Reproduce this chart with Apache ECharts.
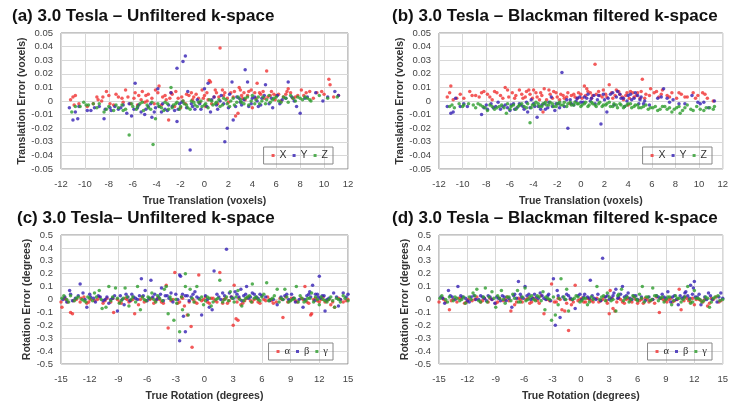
<!DOCTYPE html>
<html>
<head>
<meta charset="utf-8">
<script src="https://cdn.jsdelivr.net/npm/echarts@6/dist/echarts.min.js"></script>
<style>
  html, body { margin: 0; padding: 0; background: #fff; }
  #main { width: 731px; height: 407px; }
</style>
</head>
<body>
<div id="main"></div>
<script>
// titles of the four panels
var titles = [
    '(a) 3.0 Tesla \u2013 Unfiltered k-space',
    '(b) 3.0 Tesla \u2013 Blackman filtered k-space',
    '(c) 3.0 Tesla\u2013 Unfiltered k-space',
    '(d) 3.0 Tesla \u2013 Blackman filtered k-space'
];
var transNames = ['X', 'Y', 'Z'];
var rotNames = ['\u03b1', '\u03b2', '\u03b3'];

// (a) translation, unfiltered
var aX = [[-11.2,0.001],[-11.0,0.003],[-10.8,0.004],[-10.9,-0.003],[-10.5,-0.002],[-9.8,-0.004],[-9.3,-0.002],[-8.9,0.001],[-8.5,0.003],[-8.2,0.007],[-8.0,0.004],[-7.6,-0.003],[-7.2,0.003],[-6.9,0.002],[-6.6,0.008],[-6.2,-0.002],[-5.9,0.002],[-5.5,0.004],[-5.2,0.007],[-5.0,-0.001],[-4.7,0.005],[-4.4,0.002],[-4.1,0.008],[-3.8,0.011],[-3.5,0.003],[-3.2,0.001],[-3.0,-0.014],[-2.8,0.006],[-2.5,-0.004],[-2.2,0.002],[-1.9,0.003],[-1.6,-0.002],[-1.3,0.004],[-1.0,0.001],[-0.7,0.005],[-0.4,-0.001],[-0.1,0.002],[0.2,0.006],[0.4,0.015],[0.5,0.014],[0.8,0.003],[1.1,-0.002],[1.3,0.039],[1.6,0.004],[1.9,0.002],[2.2,0.006],[2.6,-0.011],[2.8,-0.009],[2.9,0.010],[3.1,0.004],[3.4,0.001],[3.7,0.007],[4.0,-0.005],[4.4,0.013],[4.7,0.005],[5.0,0.002],[5.2,0.022],[5.5,0.004],[5.9,0.001],[6.2,0.005],[6.6,0.003],[6.9,0.007],[7.0,0.009],[7.4,0.002],[7.8,0.004],[8.1,0.008],[8.5,0.006],[9.4,0.006],[9.8,0.007],[10.4,0.016],[10.5,0.012],[11.2,0.004],[-0.2,0.008],[0.1,-0.004],[1.0,0.006],[2.4,0.003],[3.0,0.008],[-4.8,0.000],[-2.0,-0.005],[4.2,0.006],[5.8,0.005],[3.3,0.006],[-3.6,-0.003],[-5.6,-0.003],[-6.8,-0.001],[-7.9,-0.002],[0.6,-0.002],[1.5,0.008],[4.9,0.007],[6.4,0.000],[-1.1,0.006],[-2.7,0.005],
    [-9.0,0.003],[-8.6,0.000],[-7.4,0.005],[-6.4,0.003],[-5.8,0.006],[-5.3,0.001],[-4.9,0.004],[-4.2,-0.002],[-3.9,0.006],[-3.3,0.004],[-2.9,0.002],[-2.4,0.007],[-1.8,0.000],[-1.5,0.005],[-0.9,0.003],[-0.5,0.002],[0.0,0.004],[0.3,0.001],[0.9,0.008],[1.2,0.003],[1.7,0.006],[2.0,-0.001],[2.5,0.007],[3.2,0.002],[3.6,0.004],[3.9,0.008],[4.3,0.002],[4.6,0.006],[5.3,0.003],[5.6,0.007],[6.0,0.004],[6.8,0.005],[7.2,0.006],[7.6,0.003],[8.3,0.004],[8.8,0.007],[9.1,0.002],[10.0,0.005],[10.8,0.003]];
var aY = [[-11.3,-0.005],[-11.0,-0.014],[-10.8,-0.008],[-10.6,-0.013],[-10.5,-0.004],[-9.8,-0.007],[-9.5,-0.007],[-8.4,-0.013],[-8.3,-0.006],[-7.9,-0.005],[-7.5,-0.004],[-7.2,-0.006],[-6.8,-0.003],[-6.5,-0.009],[-6.1,-0.011],[-5.8,0.013],[-5.6,-0.005],[-5.3,-0.008],[-5.0,-0.010],[-4.7,-0.004],[-4.4,-0.012],[-4.1,-0.005],[-3.9,0.009],[-3.6,-0.008],[-3.3,-0.006],[-3.0,-0.003],[-2.8,0.006],[-2.5,-0.007],[-2.3,0.024],[-2.3,-0.015],[-2.1,-0.002],[-1.8,0.029],[-1.6,0.033],[-1.4,0.007],[-1.2,-0.036],[-1.0,-0.004],[-0.6,0.001],[-0.3,-0.006],[0.0,0.009],[0.3,0.013],[0.5,-0.008],[0.8,0.003],[1.1,-0.006],[1.4,0.004],[1.7,-0.030],[1.9,-0.020],[2.1,0.005],[2.3,0.014],[2.4,-0.014],[2.6,-0.004],[2.9,0.002],[3.1,-0.003],[3.4,0.023],[3.6,0.014],[3.9,-0.002],[4.2,0.003],[4.5,-0.004],[4.8,0.002],[5.1,0.012],[5.4,-0.002],[5.7,-0.005],[6.1,0.004],[6.5,0.001],[7.0,0.014],[7.3,0.003],[7.7,-0.004],[8.0,-0.009],[8.4,0.002],[9.3,0.006],[9.9,0.000],[10.3,0.003],[10.9,0.007],[11.2,0.004],
    [-9.2,-0.005],[-8.8,-0.004],[-7.8,-0.007],[-7.0,-0.005],[-6.3,-0.002],[-5.9,-0.006],[-5.5,-0.003],[-4.9,-0.006],[-4.5,-0.002],[-4.2,-0.008],[-3.8,-0.004],[-3.5,-0.002],[-3.1,-0.007],[-2.7,-0.004],[-2.2,-0.006],[-1.9,-0.001],[-1.5,-0.005],[-1.1,-0.002],[-0.8,-0.006],[-0.4,-0.002],[0.2,-0.004],[0.6,0.001],[1.0,-0.003],[1.3,0.000],[1.6,-0.002],[2.0,-0.005],[2.7,0.003],[3.0,-0.001],[3.3,0.001],[3.7,-0.004],[4.0,0.002],[4.4,0.000],[4.7,-0.003],[5.0,0.004],[5.6,0.002],[6.3,-0.002],[6.8,0.002],[7.5,0.000],[8.6,0.003]];
var aZ = [[-11.1,-0.008],[-10.8,-0.004],[-10.4,-0.004],[-10.1,-0.001],[-9.7,-0.003],[-9.3,-0.002],[-8.8,-0.002],[-8.4,-0.008],[-8.0,-0.004],[-7.6,-0.007],[-7.2,-0.005],[-6.9,-0.003],[-6.6,-0.006],[-6.3,-0.025],[-6.0,-0.004],[-5.7,-0.006],[-5.4,-0.002],[-5.1,-0.007],[-4.8,-0.003],[-4.5,-0.006],[-4.3,-0.032],[-4.1,-0.013],[-3.9,-0.002],[-3.6,-0.005],[-3.3,-0.001],[-3.0,-0.006],[-2.8,0.010],[-2.6,-0.003],[-2.3,-0.001],[-2.0,-0.004],[-1.7,-0.002],[-1.4,-0.005],[-1.1,0.000],[-0.8,-0.003],[-0.5,-0.001],[-0.2,-0.004],[0.1,-0.002],[0.4,0.001],[0.7,-0.003],[1.0,-0.001],[1.3,-0.004],[1.6,0.002],[1.9,-0.002],[2.2,0.000],[2.5,-0.003],[2.8,0.003],[3.1,-0.001],[3.4,0.002],[3.7,-0.003],[4.0,0.004],[4.3,0.001],[4.6,-0.002],[4.9,0.003],[5.2,0.001],[5.5,-0.001],[5.8,0.002],[6.2,0.000],[6.6,0.003],[7.0,-0.001],[7.4,0.002],[7.8,0.003],[8.2,0.001],[8.6,0.002],[8.9,0.000],[9.6,0.004],[10.3,0.002],[11.1,0.003],
    [-9.9,-0.003],[-9.0,-0.005],[-8.2,-0.006],[-7.4,-0.003],[-6.8,-0.007],[-6.1,-0.002],[-5.6,-0.004],[-5.2,-0.001],[-4.7,-0.005],[-4.4,-0.001],[-3.8,-0.004],[-3.4,-0.007],[-3.1,-0.002],[-2.7,-0.005],[-2.4,-0.002],[-2.1,-0.006],[-1.8,0.000],[-1.5,-0.003],[-1.2,-0.006],[-0.9,-0.001],[-0.6,-0.004],[-0.3,0.000],[0.0,-0.003],[0.3,-0.005],[0.6,0.000],[0.9,-0.002],[1.2,0.001],[1.5,-0.003],[1.8,0.001],[2.1,-0.004],[2.4,0.002],[2.7,-0.001],[3.0,0.001],[3.3,-0.002],[3.6,0.003],[3.9,0.000],[4.2,-0.002],[4.5,0.003],[4.8,0.000],[5.1,-0.002],[5.4,0.004],[5.7,0.001],[6.0,0.003],[6.4,-0.001],[6.8,0.002],[7.2,0.004],[7.6,0.000],[8.0,0.002],[8.4,0.003],[8.8,0.001]];

// (b) translation, Blackman filtered
var bX = [[-11.3,0.003],[-11.1,0.006],[-11.0,0.011],[-10.8,0.001],[-10.5,0.002],[-9.9,0.002],[-9.4,0.007],[-8.9,0.004],[-8.6,0.003],[-8.2,0.007],[-7.9,0.005],[-7.5,0.001],[-7.1,0.006],[-6.8,0.004],[-6.4,0.010],[-6.1,0.003],[-5.8,0.006],[-5.5,0.004],[-5.2,0.008],[-4.9,0.002],[-4.6,0.007],[-4.3,0.005],[-4.0,0.008],[-3.7,0.003],[-3.4,0.006],[-3.1,0.009],[-2.9,0.001],[-2.6,0.005],[-2.3,0.007],[-2.0,0.003],[-1.7,0.005],[-1.4,0.002],[-1.1,0.006],[-0.8,0.004],[-0.5,0.003],[-0.2,0.006],[0.1,0.002],[0.3,0.011],[0.5,0.009],[0.8,0.006],[1.0,0.004],[1.2,0.027],[1.5,0.007],[1.8,0.003],[2.1,0.005],[2.4,0.012],[2.7,0.002],[3.0,0.008],[3.3,0.005],[3.6,0.001],[3.9,0.006],[4.2,0.007],[4.5,0.003],[4.8,0.006],[5.0,0.002],[5.2,0.016],[5.5,0.005],[5.9,0.009],[6.2,0.006],[6.6,0.003],[6.9,0.008],[7.3,0.004],[7.7,0.006],[8.1,0.002],[8.5,0.005],[9.0,0.003],[9.5,0.006],[9.9,0.004],[10.3,0.006],[10.7,0.002],[11.2,0.000],[-3.2,-0.008],[-0.9,-0.002],[4.0,-0.003],
    [-10.2,0.005],[-9.2,0.004],[-8.4,0.006],[-7.7,0.003],[-7.3,0.007],[-6.6,0.002],[-6.2,0.008],[-5.6,0.002],[-5.0,0.005],[-4.7,0.003],[-4.4,0.008],[-4.1,0.002],[-3.8,0.006],[-3.5,0.001],[-3.3,0.004],[-2.7,0.008],[-2.4,0.002],[-2.1,0.006],[-1.8,0.001],[-1.5,0.004],[-1.2,0.003],[-0.6,0.005],[-0.3,0.002],[0.0,0.005],[0.4,0.004],[0.6,0.007],[0.9,0.002],[1.3,0.005],[1.6,0.004],[1.9,0.008],[2.2,0.003],[2.6,0.006],[2.9,0.004],[3.2,0.007],[3.5,0.003],[3.8,0.004],[4.1,0.002],[4.4,0.006],[4.7,0.004],[5.1,0.007],[5.4,0.002],[5.8,0.004],[6.4,0.007],[6.8,0.005],[7.5,0.003],[8.3,0.006],[8.8,0.003],[9.7,0.002],[10.5,0.005]];
var bY = [[-11.3,-0.004],[-11.0,-0.009],[-10.8,-0.008],[-10.6,0.002],[-10.2,-0.004],[-9.6,-0.004],[-8.4,-0.010],[-8.2,-0.005],[-7.9,-0.006],[-7.6,-0.002],[-7.2,-0.004],[-6.8,-0.006],[-6.4,-0.003],[-6.0,-0.007],[-5.7,-0.002],[-5.4,-0.005],[-5.1,-0.003],[-4.8,-0.006],[-4.5,-0.008],[-4.2,0.001],[-3.9,-0.004],[-3.7,-0.012],[-3.4,-0.006],[-3.1,-0.002],[-2.8,-0.005],[-2.5,0.003],[-2.2,-0.007],[-1.9,-0.002],[-1.6,0.021],[-1.4,-0.004],[-1.1,-0.020],[-0.9,0.001],[-0.6,-0.003],[-0.3,0.002],[0.0,-0.001],[0.3,0.003],[0.6,0.005],[0.9,0.002],[1.2,-0.002],[1.5,0.004],[1.7,-0.017],[2.0,0.001],[2.2,-0.008],[2.5,0.005],[2.8,-0.003],[3.1,0.007],[3.4,0.002],[3.7,-0.004],[4.0,0.004],[4.3,0.001],[4.6,0.006],[4.9,-0.002],[5.1,0.003],[5.4,0.000],[5.8,-0.003],[6.5,0.002],[7.0,0.009],[7.3,0.002],[7.8,0.001],[8.3,-0.002],[8.8,-0.002],[9.4,0.004],[10.1,-0.002],[10.4,-0.001],[10.8,-0.005],[11.3,0.000],
    [-9.9,-0.002],[-8.0,-0.003],[-7.4,-0.005],[-7.0,-0.001],[-6.6,-0.004],[-6.2,-0.005],[-5.9,-0.003],[-5.6,-0.006],[-5.2,-0.002],[-4.9,-0.004],[-4.6,-0.001],[-4.3,-0.005],[-4.0,-0.002],[-3.6,-0.004],[-3.3,-0.003],[-3.0,-0.006],[-2.7,-0.001],[-2.4,-0.004],[-2.1,-0.002],[-1.8,-0.005],[-1.2,0.001],[-0.8,-0.002],[-0.4,0.000],[-0.1,0.003],[0.2,-0.001],[0.5,0.002],[0.8,0.000],[1.1,0.004],[1.4,0.001],[1.9,0.005],[2.3,0.002],[2.7,0.006],[3.0,0.003],[3.3,0.005],[3.6,0.002],[3.9,0.000],[4.2,0.005],[4.5,0.002],[4.8,0.004],[5.0,0.001],[5.3,-0.002],[6.8,0.003],[7.5,-0.001],[9.9,-0.001]];
var bZ = [[-11.1,-0.004],[-10.7,-0.005],[-10.3,-0.002],[-9.9,-0.003],[-9.5,-0.002],[-9.1,-0.003],[-8.7,-0.002],[-8.3,-0.004],[-7.9,-0.007],[-7.5,-0.004],[-7.1,-0.005],[-6.7,-0.003],[-6.3,-0.009],[-6.0,-0.006],[-5.7,-0.003],[-5.3,-0.004],[-5.0,-0.002],[-4.6,-0.005],[-4.3,-0.016],[-4.1,-0.003],[-3.8,-0.001],[-3.5,-0.004],[-3.2,-0.002],[-2.9,-0.003],[-2.6,-0.001],[-2.3,-0.004],[-2.0,-0.002],[-1.7,-0.003],[-1.4,-0.001],[-1.1,-0.002],[-0.8,-0.003],[-0.5,-0.001],[-0.2,-0.002],[0.1,-0.003],[0.4,-0.001],[0.7,-0.003],[1.0,-0.002],[1.3,-0.004],[1.6,-0.001],[1.9,-0.003],[2.2,-0.002],[2.5,-0.004],[2.8,-0.002],[3.1,-0.005],[3.4,-0.003],[3.7,-0.004],[4.0,-0.002],[4.3,-0.005],[4.6,-0.003],[4.9,-0.005],[5.3,-0.004],[5.7,-0.006],[6.1,-0.005],[6.5,-0.007],[6.9,-0.004],[7.3,-0.006],[7.7,-0.008],[8.1,-0.005],[8.4,-0.009],[8.6,-0.007],[9.0,-0.003],[9.5,-0.007],[10.1,-0.006],[10.6,-0.005],[11.2,-0.006],[11.3,-0.004],
    [-10.9,-0.003],[-10.0,-0.004],[-8.9,-0.005],[-8.5,-0.003],[-8.1,-0.005],[-7.7,-0.003],[-7.3,-0.006],[-6.9,-0.004],[-6.5,-0.005],[-6.2,-0.002],[-5.9,-0.004],[-5.5,-0.006],[-5.2,-0.003],[-4.8,-0.004],[-4.5,-0.002],[-4.2,-0.005],[-3.9,-0.003],[-3.6,-0.002],[-3.3,-0.004],[-3.0,-0.001],[-2.7,-0.003],[-2.4,-0.002],[-2.1,-0.004],[-1.8,-0.001],[-1.5,-0.003],[-1.2,-0.004],[-0.9,-0.001],[-0.6,-0.003],[-0.3,-0.002],[0.0,-0.004],[0.3,-0.002],[0.6,-0.004],[0.9,-0.001],[1.2,-0.003],[1.5,-0.002],[1.8,-0.004],[2.1,-0.003],[2.4,-0.001],[2.7,-0.004],[3.0,-0.003],[3.3,-0.002],[3.6,-0.005],[3.9,-0.003],[4.2,-0.002],[4.5,-0.004],[4.8,-0.003],[5.1,-0.005],[5.5,-0.003],[5.9,-0.005],[6.3,-0.004],[6.7,-0.006],[7.1,-0.004],[7.5,-0.005],[7.9,-0.006],[8.3,-0.004],[8.8,-0.005],[9.3,-0.006],[9.8,-0.004],[10.4,-0.007],[10.9,-0.005]];

// (c) rotation, unfiltered
var cA = [[-15,-0.02],[-14.9,-0.06],[-14.6,0.01],[-14.3,-0.02],[-14.0,-0.10],[-13.8,-0.11],[-13.4,0.00],[-13.0,-0.02],[-12.6,0.02],[-12.3,-0.03],[-11.9,0.00],[-11.5,-0.01],[-11.0,0.02],[-10.6,-0.03],[-10.2,0.01],[-9.8,-0.02],[-9.5,-0.10],[-9.1,0.00],[-8.7,-0.03],[-8.3,0.01],[-7.9,-0.02],[-7.5,0.00],[-7.3,-0.11],[-6.9,-0.04],[-6.5,0.02],[-6.1,-0.01],[-5.7,0.00],[-5.3,-0.03],[-4.9,0.01],[-4.5,-0.02],[-4.0,0.11],[-3.8,-0.22],[-3.5,-0.01],[-3.1,0.21],[-2.8,-0.03],[-2.4,0.02],[-2.1,-0.05],[-1.8,-0.12],[-1.4,-0.21],[-1.3,-0.37],[-1.0,-0.02],[-0.6,0.19],[-0.3,-0.01],[0.1,0.02],[0.5,-0.03],[0.9,0.01],[1.3,-0.02],[1.6,0.21],[2.0,0.00],[2.4,-0.03],[2.8,0.02],[3.0,-0.20],[3.1,0.11],[3.3,-0.15],[3.5,-0.16],[3.8,-0.04],[4.2,-0.01],[4.6,0.02],[5.0,-0.02],[5.4,0.01],[5.8,-0.03],[6.2,0.00],[6.6,0.02],[7.0,-0.01],[7.5,-0.02],[7.9,0.01],[8.2,-0.14],[8.5,0.02],[8.9,-0.01],[9.3,0.01],[9.7,-0.02],[10.1,0.01],[10.5,0.10],[10.9,-0.03],[11.1,-0.12],[11.2,-0.11],[11.6,0.01],[12.0,-0.02],[12.4,0.02],[12.8,-0.01],[13.2,-0.04],[13.6,-0.06],[14.0,0.01],[14.5,-0.02],[15,0.00],
    [-14.5,0.00],[-13.7,-0.01],[-12.9,0.01],[-12.1,-0.02],[-11.2,0.00],[-10.4,-0.01],[-9.6,0.01],[-8.9,-0.02],[-8.1,0.00],[-7.7,-0.01],[-6.7,0.00],[-6.3,-0.02],[-5.5,0.01],[-5.1,-0.01],[-4.7,0.00],[-4.3,-0.03],[-3.3,0.00],[-2.6,-0.02],[-2.3,0.01],[-1.6,-0.02],[-1.2,0.00],[-0.8,-0.03],[-0.1,0.00],[0.3,-0.02],[0.7,0.01],[1.1,-0.01],[1.9,-0.03],[2.2,0.01],[2.6,-0.01],[3.4,-0.02],[3.6,0.01],[4.0,-0.03],[4.4,0.01],[4.8,-0.01],[5.2,0.00],[5.6,-0.02],[6.4,-0.01],[6.8,0.00],[7.2,-0.03],[8.1,0.00],[8.7,-0.02],[9.1,0.01],[9.5,-0.01],[10.3,0.00],[10.7,-0.02],[11.4,0.00],[11.8,-0.01],[12.2,0.00],[12.6,-0.02],[13.0,0.00],[13.4,-0.02],[14.2,0.00],[14.8,-0.01]];
var cB = [[-14.8,0.00],[-14.4,-0.02],[-14.1,0.07],[-14.0,0.04],[-13.5,0.01],[-13.0,0.12],[-12.7,0.05],[-12.3,-0.06],[-11.9,0.02],[-11.4,-0.02],[-10.9,0.02],[-10.4,0.00],[-10.0,-0.03],[-9.6,0.01],[-9.1,-0.09],[-8.8,0.03],[-8.4,-0.04],[-8.0,0.02],[-7.6,0.04],[-7.2,0.01],[-6.8,0.03],[-6.6,0.16],[-6.2,0.07],[-5.8,0.01],[-5.6,0.15],[-5.2,0.04],[-4.8,0.02],[-4.5,0.09],[-4.1,0.03],[-3.7,0.01],[-3.3,-0.02],[-3.0,0.04],[-2.6,0.19],[-2.5,0.18],[-2.6,-0.32],[-2.3,0.04],[-2.0,-0.25],[-2.2,-0.13],[-1.8,0.03],[-1.4,0.02],[-1.0,0.06],[-0.6,0.01],[-0.3,-0.12],[0.1,0.03],[0.5,-0.06],[0.8,-0.08],[1.0,0.22],[1.3,0.04],[1.7,0.00],[2.1,0.03],[2.3,0.39],[2.6,0.05],[3.0,0.01],[3.4,0.04],[3.8,0.08],[4.1,0.03],[4.4,0.10],[4.8,0.02],[5.2,0.04],[5.6,0.01],[6.0,0.03],[6.4,0.02],[6.8,-0.01],[7.2,0.00],[7.6,-0.04],[8.0,0.02],[8.4,0.03],[8.8,0.00],[9.1,0.04],[9.5,-0.02],[9.9,0.00],[10.3,-0.06],[10.7,0.03],[11.0,0.06],[11.3,0.11],[11.6,0.04],[11.9,0.02],[12.0,0.18],[12.3,0.03],[12.6,-0.09],[13.0,0.01],[13.5,0.05],[14.0,-0.05],[14.5,0.05],[14.8,0.02],[15,0.04],
    [-14.6,0.02],[-13.8,-0.01],[-13.2,0.03],[-12.5,0.00],[-12.0,0.04],[-11.6,0.01],[-11.1,0.03],[-10.6,-0.01],[-10.2,0.02],[-9.8,0.00],[-9.4,0.03],[-8.6,0.00],[-8.2,0.04],[-7.8,-0.01],[-7.4,0.02],[-7.0,0.00],[-6.4,0.03],[-6.0,-0.01],[-5.4,0.02],[-5.0,0.00],[-4.6,0.04],[-4.3,-0.01],[-3.9,0.03],[-3.5,0.05],[-2.8,0.00],[-2.0,0.03],[-1.6,-0.01],[-1.2,0.04],[-0.8,0.02],[0.3,0.00],[1.5,0.02],[1.9,0.05],[2.8,0.02],[3.2,0.06],[3.6,0.02],[3.9,-0.01],[4.3,0.04],[4.6,0.01],[5.0,0.05],[5.4,0.02],[5.8,0.04],[8.2,0.00],[8.6,0.04],[9.3,0.01],[10.5,0.00],[10.9,0.04],[11.1,0.02],[11.5,-0.01],[11.8,0.04],[12.1,0.01],[12.5,0.03],[12.8,0.00],[13.8,0.02],[14.2,0.00]];
var cG = [[-14.7,0.03],[-14.4,0.00],[-14.0,0.03],[-13.6,-0.01],[-13.2,0.02],[-12.8,0.00],[-12.4,-0.02],[-12.0,0.01],[-11.5,0.05],[-11.0,0.07],[-10.7,-0.07],[-10.3,-0.06],[-10.0,0.10],[-9.6,0.02],[-9.3,0.09],[-8.9,-0.03],[-8.5,0.01],[-8.3,0.09],[-7.9,-0.05],[-7.5,0.02],[-7.0,0.10],[-6.7,-0.08],[-6.3,0.00],[-5.9,0.02],[-5.5,0.05],[-5.1,-0.02],[-4.7,0.01],[-4.2,0.08],[-4.0,0.10],[-3.8,-0.11],[-3.5,0.00],[-3.2,-0.16],[-2.9,-0.03],[-2.6,-0.25],[-2.3,-0.08],[-2.0,0.20],[-2.0,0.10],[-1.7,-0.12],[-1.5,0.08],[-1.1,-0.02],[-0.8,0.10],[-0.5,0.00],[-0.1,-0.04],[0.3,0.02],[0.7,-0.05],[1.2,0.00],[1.6,0.15],[1.9,-0.02],[2.3,0.02],[2.7,0.06],[3.1,-0.02],[3.5,0.07],[3.9,-0.05],[4.3,0.01],[4.7,0.03],[5.0,0.12],[5.4,0.02],[5.8,-0.01],[6.2,0.04],[6.5,0.13],[6.9,0.00],[7.3,0.03],[7.6,0.08],[8.0,0.01],[8.4,0.08],[8.8,-0.02],[9.2,0.00],[9.6,0.10],[10.0,0.03],[10.4,-0.02],[10.8,0.01],[11.2,0.05],[11.6,0.02],[12.0,-0.04],[12.4,0.00],[12.8,-0.02],[13.2,0.02],[13.6,-0.06],[14.0,0.00],[14.5,0.03],[15,-0.01],
    [-14.9,0.01],[-14.2,-0.02],[-13.4,0.01],[-12.6,-0.01],[-12.2,0.02],[-11.7,-0.01],[-11.3,0.02],[-10.8,0.00],[-9.8,-0.01],[-9.1,0.01],[-8.7,-0.01],[-8.1,0.02],[-7.7,0.00],[-7.2,-0.02],[-6.5,0.02],[-6.1,-0.01],[-5.7,0.01],[-5.3,0.00],[-4.9,0.03],[-4.4,-0.01],[-3.6,0.02],[-3.0,0.00],[-2.4,0.02],[-1.3,0.01],[-0.3,0.02],[0.1,-0.01],[0.5,0.01],[0.9,-0.02],[1.4,0.01],[2.1,0.00],[2.5,-0.01],[2.9,0.01],[3.3,0.02],[3.7,0.00],[4.1,-0.01],[4.5,0.02],[4.9,-0.02],[5.2,0.01],[5.6,0.00],[6.0,0.02],[6.7,-0.01],[7.1,0.01],[7.8,-0.02],[8.2,0.00],[8.6,0.02],[9.0,-0.01],[9.4,0.01],[9.8,-0.02],[10.2,0.01],[10.6,-0.01],[11.0,0.01],[11.4,-0.02],[11.8,0.00],[12.2,0.02],[12.6,-0.01],[13.0,0.00],[13.4,-0.01],[13.8,0.01],[14.2,-0.02],[14.7,0.01]];

// (d) rotation, Blackman filtered
var dA = [[-15,-0.02],[-14.6,0.01],[-14.3,-0.02],[-13.9,-0.08],[-13.5,0.00],[-13.1,-0.02],[-12.7,0.01],[-12.3,-0.03],[-11.9,0.00],[-11.5,-0.01],[-11.0,0.02],[-10.6,-0.02],[-10.2,0.01],[-9.8,-0.02],[-9.4,0.00],[-9.0,-0.03],[-8.6,0.01],[-8.2,-0.01],[-7.8,0.02],[-7.4,-0.09],[-7.0,-0.04],[-6.6,0.01],[-6.2,-0.02],[-5.8,0.00],[-5.4,-0.03],[-5.0,0.01],[-4.6,-0.01],[-4.2,0.03],[-3.9,-0.11],[-3.6,0.00],[-3.1,0.12],[-2.8,-0.02],[-2.4,0.01],[-2.0,-0.08],[-1.7,-0.09],[-1.3,-0.24],[-1.0,-0.04],[-0.6,0.11],[-0.3,-0.01],[0.1,0.01],[0.5,-0.02],[0.9,0.00],[1.3,-0.02],[1.7,0.01],[2.1,-0.01],[2.5,0.02],[2.8,-0.03],[3.0,-0.11],[3.1,0.07],[3.4,-0.07],[3.6,-0.09],[4.0,0.01],[4.4,-0.02],[4.8,0.00],[5.2,-0.01],[5.6,0.02],[6.0,-0.03],[6.4,0.00],[6.8,0.01],[7.2,-0.02],[7.6,0.00],[8.0,0.02],[8.3,-0.10],[8.7,0.00],[9.1,-0.02],[9.5,0.01],[9.9,-0.01],[10.4,0.08],[10.6,-0.08],[11.0,0.02],[11.4,-0.01],[11.8,0.01],[12.0,-0.04],[12.5,0.00],[12.9,-0.02],[13.4,-0.05],[13.8,0.01],[14.3,0.02],[14.8,-0.01],
    [-14.5,0.00],[-13.7,-0.01],[-12.9,0.01],[-12.1,-0.02],[-11.2,0.00],[-10.4,-0.01],[-9.6,0.01],[-8.8,-0.02],[-8.0,0.00],[-7.6,-0.01],[-6.8,-0.02],[-6.4,0.00],[-5.6,0.01],[-5.2,-0.02],[-4.8,0.00],[-4.4,-0.03],[-3.3,-0.01],[-2.6,-0.02],[-2.2,0.00],[-1.5,-0.03],[-1.1,0.00],[-0.8,-0.02],[-0.1,0.00],[0.3,-0.02],[0.7,0.01],[1.1,-0.01],[1.9,-0.02],[2.3,0.00],[2.7,-0.01],[3.3,0.01],[3.8,-0.02],[4.2,0.00],[4.6,-0.03],[5.0,0.01],[5.4,-0.02],[5.8,0.00],[6.2,-0.01],[6.6,-0.03],[7.0,0.00],[7.4,-0.01],[7.8,-0.03],[8.5,0.01],[8.9,-0.01],[9.3,0.00],[9.7,-0.02],[10.2,0.00],[10.9,-0.01],[11.2,0.01],[11.6,-0.02],[12.2,0.00],[12.7,-0.01],[13.1,0.00],[13.6,-0.03],[14.0,0.00],[14.6,-0.02]];
var dB = [[-14.8,0.02],[-14.4,-0.03],[-14.0,0.07],[-13.6,0.02],[-13.0,0.10],[-12.7,0.03],[-12.2,0.01],[-11.8,-0.02],[-11.3,0.03],[-10.8,0.00],[-10.4,0.02],[-10.0,-0.01],[-9.6,0.02],[-9.1,-0.03],[-8.7,0.01],[-8.3,0.03],[-7.9,-0.01],[-7.3,-0.06],[-7.0,0.04],[-6.6,0.14],[-6.3,0.02],[-5.9,0.10],[-5.5,0.04],[-5.1,0.01],[-4.7,0.02],[-4.3,0.05],[-3.9,0.01],[-3.5,0.03],[-3.2,-0.01],[-2.9,0.16],[-2.7,-0.20],[-2.5,0.07],[-2.2,-0.14],[-1.9,0.02],[-1.5,0.04],[-1.1,0.01],[-0.6,-0.07],[-0.3,0.03],[0.1,0.00],[0.4,0.04],[0.7,0.02],[1.0,0.15],[1.4,0.01],[1.8,0.04],[2.1,-0.01],[2.3,0.32],[2.6,0.02],[3.0,0.00],[3.4,0.03],[3.7,0.08],[4.0,0.02],[4.4,0.10],[4.8,0.03],[5.2,0.01],[5.6,0.03],[6.0,0.00],[6.4,0.02],[6.8,-0.01],[7.2,0.02],[7.6,0.00],[8.0,0.03],[8.4,0.01],[8.8,0.02],[9.2,0.06],[9.5,-0.02],[9.9,0.03],[10.3,-0.04],[10.7,0.01],[11.0,0.05],[11.3,0.03],[11.6,0.11],[11.9,0.09],[12.0,0.14],[12.3,0.02],[12.7,-0.04],[13.1,0.02],[13.5,0.05],[13.9,0.00],[14.4,-0.02],[14.8,0.05],[15,0.01],
    [-14.6,0.01],[-13.8,0.03],[-13.3,0.00],[-12.5,0.02],[-12.0,-0.01],[-11.6,0.02],[-11.1,0.00],[-10.6,0.03],[-10.2,0.01],[-9.8,0.03],[-9.4,0.00],[-8.9,0.02],[-8.5,-0.01],[-8.1,0.02],[-7.6,0.01],[-7.1,0.03],[-6.8,0.01],[-6.4,0.04],[-6.1,0.01],[-5.7,0.03],[-5.3,0.00],[-4.9,0.04],[-4.5,0.01],[-4.1,0.03],[-3.7,0.00],[-3.4,0.04],[-2.4,0.03],[-1.7,0.00],[-1.3,0.03],[-0.9,0.00],[-0.1,0.04],[0.3,0.02],[0.9,0.01],[1.2,0.03],[1.6,0.00],[2.8,0.03],[3.2,0.01],[3.5,0.05],[3.9,0.01],[4.2,0.04],[4.6,0.02],[5.0,0.05],[5.4,0.00],[5.8,0.03],[8.2,0.02],[8.6,0.04],[9.0,0.01],[9.7,0.02],[10.1,0.00],[10.5,0.03],[10.9,0.02],[11.1,0.06],[11.5,0.01],[11.8,0.04],[12.1,0.02],[12.5,0.04],[13.3,0.00],[13.7,0.03],[14.6,0.02]];
var dG = [[-14.7,0.03],[-14.3,0.00],[-13.9,0.02],[-13.5,-0.01],[-13.1,0.01],[-12.6,0.00],[-12.2,-0.03],[-11.8,0.02],[-11.4,0.05],[-11.0,0.08],[-10.6,-0.02],[-10.1,0.09],[-9.7,0.02],[-9.4,0.06],[-9.0,-0.06],[-8.6,0.01],[-8.4,0.07],[-8.0,-0.03],[-7.6,0.02],[-7.2,0.04],[-6.7,0.07],[-6.4,-0.02],[-5.9,0.09],[-5.6,0.00],[-5.2,0.03],[-4.8,-0.01],[-4.4,0.02],[-4.0,0.06],[-3.8,-0.08],[-3.5,0.01],[-3.1,-0.16],[-2.7,-0.12],[-2.4,-0.04],[-2.1,0.16],[-1.8,0.02],[-1.5,0.08],[-1.3,-0.09],[-0.9,0.00],[-0.5,0.03],[-0.1,-0.02],[0.3,0.01],[0.7,-0.04],[1.1,0.02],[1.7,0.10],[2.0,0.00],[2.4,0.03],[2.8,0.05],[3.2,-0.01],[3.7,-0.09],[4.0,0.04],[4.3,0.08],[4.7,0.01],[5.1,-0.02],[5.5,0.03],[5.9,0.00],[6.2,0.04],[6.5,0.10],[6.9,0.02],[7.3,-0.01],[7.6,0.09],[8.0,0.03],[8.4,0.01],[8.8,-0.02],[9.2,0.02],[9.6,-0.04],[10.0,0.03],[10.4,0.01],[10.8,0.00],[11.3,0.10],[11.6,-0.03],[12.0,0.07],[12.4,0.01],[12.8,-0.02],[13.2,0.02],[13.6,-0.06],[14.0,0.01],[14.5,0.03],[15,0.00],
    [-14.9,0.01],[-14.1,-0.02],[-13.3,0.02],[-12.8,-0.01],[-12.4,0.02],[-11.6,0.00],[-11.2,0.03],[-10.8,-0.01],[-10.3,0.02],[-9.9,-0.02],[-9.2,0.01],[-8.8,0.03],[-8.2,0.00],[-7.8,0.02],[-7.4,-0.01],[-7.0,0.01],[-6.6,-0.02],[-6.2,0.02],[-5.8,-0.01],[-5.4,0.02],[-5.0,0.00],[-4.6,0.03],[-4.2,-0.01],[-3.7,0.02],[-3.3,0.00],[-2.9,0.02],[-2.3,0.01],[-1.6,0.00],[-0.7,0.01],[-0.3,0.02],[0.1,-0.01],[0.5,0.01],[0.9,-0.02],[1.3,0.00],[2.2,0.02],[2.6,-0.01],[3.0,0.02],[3.4,0.00],[3.9,0.03],[4.5,-0.01],[4.9,0.02],[5.3,0.00],[5.7,0.02],[6.0,-0.01],[6.4,0.01],[6.7,-0.02],[7.1,0.02],[7.5,0.00],[7.8,0.03],[8.2,-0.01],[8.6,0.02],[9.0,0.00],[9.4,0.02],[9.8,-0.01],[10.2,0.01],[10.6,-0.02],[11.0,0.02],[11.5,0.00],[11.8,-0.02],[12.2,0.01],[12.6,0.00],[13.0,-0.01],[13.4,0.01],[13.8,-0.02],[14.2,0.02],[14.7,-0.01]];

var colors = ['#f03232', '#3420b4', '#2e9e2e'];

var panelData = [[aX, aY, aZ], [bX, bY, bZ], [cA, cB, cG], [dA, dB, dG]];

var grids = [
    {left: 61, top: 33, width: 287, height: 136},
    {left: 439, top: 33, width: 287, height: 136},
    {left: 61, top: 235, width: 287, height: 129},
    {left: 439, top: 235, width: 286, height: 129}
];
var titlePos = [[7, 3], [387, 3], [12, 205], [387, 205]];
// legends are anchored by their right edge and top
var legendPos = [[398, 147], [19, 147], [398, 343], [19, 343]];

var myChart = echarts.init(document.getElementById('main'));

var option = {
    animation: false,
    backgroundColor: '#fff',
    title: [],
    legend: [],
    grid: [],
    xAxis: [],
    yAxis: [],
    series: []
};

for (var i = 0; i < 4; i++) {
    var isRot = i >= 2;
    var names = isRot ? rotNames : transNames;
    option.title.push({
        text: titles[i],
        left: titlePos[i][0], top: titlePos[i][1],
        textStyle: {fontFamily: 'Liberation Sans', fontWeight: 'bold', fontSize: 17, color: '#111'}
    });
    option.grid.push({
        left: grids[i].left, top: grids[i].top, width: grids[i].width, height: grids[i].height,
        show: true, borderColor: '#8a8a8a', borderWidth: 1
    });
    option.xAxis.push({
        type: 'value', gridIndex: i,
        min: isRot ? -15 : -12, max: isRot ? 15 : 12, interval: isRot ? 3 : 2,
        name: isRot ? 'True Rotation (degrees)' : 'True Translation (voxels)',
        nameLocation: 'middle', nameGap: 27,
        nameTextStyle: {fontFamily: 'Liberation Sans', fontWeight: 'bold', fontSize: 10.5, color: '#333'},
        axisLine: {show: false, onZero: false},
        axisTick: {show: false},
        axisLabel: {fontFamily: 'Liberation Sans', fontSize: 9.5, color: '#444', margin: 10},
        splitLine: {lineStyle: {color: '#d8d8d8', width: 1}}
    });
    option.yAxis.push({
        type: 'value', gridIndex: i,
        min: isRot ? -0.5 : -0.05, max: isRot ? 0.5 : 0.05, interval: isRot ? 0.1 : 0.01,
        name: isRot ? 'Rotation Error (degrees)' : 'Translation Error (voxels)',
        nameLocation: 'middle', nameRotate: 90, nameGap: 26,
        nameTextStyle: {fontFamily: 'Liberation Sans', fontWeight: 'bold', fontSize: 10.5, color: '#333'},
        axisLine: {show: false},
        axisTick: {show: false},
        axisLabel: {fontFamily: 'Liberation Sans', fontSize: 9.5, color: '#444', margin: 8},
        splitLine: {lineStyle: {color: '#d8d8d8', width: 1}}
    });
    var legendNames = [];
    for (var s = 0; s < 3; s++) {
        var nm = names[s] + ' ' + (i + 1);
        legendNames.push(nm);
        option.series.push({
            name: nm, type: 'scatter', xAxisIndex: i, yAxisIndex: i,
            symbol: 'circle', symbolSize: 3.5,
            itemStyle: {color: colors[s]},
            data: panelData[i][s]
        });
    }
    option.legend.push({
        data: legendNames,
        right: legendPos[i][0], top: legendPos[i][1],
        orient: 'horizontal', itemGap: 6,
        icon: 'rect', itemWidth: 3, itemHeight: 3,
        borderColor: '#888', borderWidth: 1, padding: [3, 5, 3, 8],
        formatter: function (n) { return n.split(' ')[0]; },
        textStyle: {fontFamily: isRot ? 'Liberation Serif' : 'Liberation Sans', fontSize: 10.5, color: '#333'}
    });
}

myChart.setOption(option);
</script>
</body>
</html>
